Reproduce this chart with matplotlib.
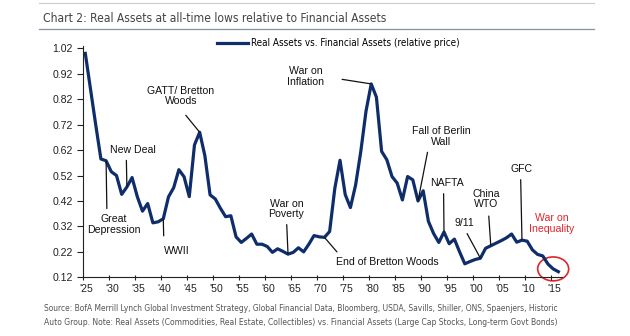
import numpy as np
import matplotlib
matplotlib.use("Agg")
import matplotlib.pyplot as plt
import matplotlib.transforms as mtransforms
from matplotlib import font_manager as fm
from matplotlib.lines import Line2D
from matplotlib.patches import Ellipse

# Real assets vs financial assets, relative price, annual
years = np.arange(1925, 2017)
rel_price = [
    1.00, 0.86, 0.72, 0.585, 0.578, 0.535, 0.52, 0.446, 0.475, 0.512,   # 1925-34
    0.437, 0.38, 0.41, 0.334, 0.338, 0.35, 0.436, 0.472, 0.543, 0.515,  # 1935-44
    0.437, 0.64, 0.69, 0.598, 0.444, 0.428, 0.391, 0.358, 0.362, 0.279, # 1945-54
    0.257, 0.273, 0.29, 0.25, 0.25, 0.241, 0.218, 0.232, 0.222, 0.211,  # 1955-64
    0.218, 0.236, 0.22, 0.25, 0.284, 0.279, 0.277, 0.30, 0.47, 0.58,    # 1965-74
    0.445, 0.394, 0.483, 0.615, 0.773, 0.88, 0.828, 0.615, 0.582, 0.516, # 1975-84
    0.49, 0.424, 0.516, 0.503, 0.42, 0.46, 0.34, 0.292, 0.257, 0.298,   # 1985-94
    0.252, 0.27, 0.22, 0.173, 0.182, 0.19, 0.195, 0.234, 0.244, 0.254,  # 1995-2004
    0.264, 0.275, 0.29, 0.258, 0.266, 0.262, 0.228, 0.21, 0.204, 0.172, # 2005-14
    0.153, 0.142,                                                       # 2015-16
]

y_ticks = [0.12, 0.22, 0.32, 0.42, 0.52, 0.62, 0.72, 0.82, 0.92, 1.02]
x_ticks = list(range(1925, 2016, 5))
x_labels = ["'%02d" % (y % 100) for y in x_ticks]

event_labels = ["Great\nDepression", "New Deal", "WWII", "GATT/ Bretton\nWoods",
                "War on\nPoverty", "End of Bretton Woods", "War on\nInflation",
                "Fall of Berlin\nWall", "NAFTA", "9/11", "China\nWTO", "GFC"]
event_years = [1929, 1933, 1940, 1947, 1964, 1971, 1980, 1989, 1994, 2001, 2003, 2009]

# text position (x, y), leader start on text bbox, gap at text end
event_layout = [
    ((1931.0, 0.328), (0.37, 1.0), 2),
    ((1934.7, 0.621), (0.35, 0.0), 2),
    ((1943.1, 0.225), (0.0, 1.0), 5),
    ((1943.9, 0.833), (0.46, 0.0), 6),
    ((1964.2, 0.389), (0.5, 0.0), 2),
    ((1983.6, 0.181), (0.05, 1.0), 2),
    ((1967.9, 0.909), (1.0, 0.5), 11),
    ((1993.9, 0.673), (0.29, 0.0), 2),
    ((1995.0, 0.490), (0.41, 0.0), 2),
    ((1998.4, 0.332), (0.5, 0.0), 2),
    ((2002.6, 0.428), (0.58, 0.0), 3),
    ((2009.4, 0.545), (0.46, 0.0), 2),
]

title = "Chart 2: Real Assets at all-time lows relative to Financial Assets"
series_name = "Real Assets vs. Financial Assets (relative price)"
source_lines = [
    "Source: BofA Merrill Lynch Global Investment Strategy, Global Financial Data, "
    "Bloomberg, USDA, Savills, Shiller, ONS, Spaenjers, Historic",
    "Auto Group. Note: Real Assets (Commodities, Real Estate, Collectibles) vs. "
    "Financial Assets (Large Cap Stocks, Long-term Govt Bonds)",
]

navy = "#0f2d6b"
red = "#e0262b"
plt.rcParams["font.family"] = ["Liberation Sans", "DejaVu Sans"]


def narrow_font():
    # a condensed sans face if one is installed, else plain Liberation Sans
    prefs = ["Liberation Sans Narrow", "DejaVu Sans", "Noto Sans", "Roboto",
             "Open Sans", "Noto Sans Condensed", "Roboto Condensed"]
    found = [f for f in fm.fontManager.ttflist
             if (f.stretch in ("condensed", "semi-condensed") or "Narrow" in f.name
                 or "Condensed" in f.name)
             and f.style == "normal" and f.weight in (400, "normal", "regular", "book")
             and f.name in prefs]
    if found:
        found.sort(key=lambda f: prefs.index(f.name))
        return fm.FontProperties(fname=found[0].fname)
    return fm.FontProperties(family=["Liberation Sans", "DejaVu Sans"])


narrow = narrow_font()

fig = plt.figure(figsize=(6.3, 3.36), dpi=100)
renderer = fig.canvas.get_renderer()


def fitted_size(s, width_px, base=10.0):
    # font size at which s spans width_px pixels in the narrow face
    t = fig.text(0, 0, s, fontproperties=narrow, fontsize=base)
    w = t.get_window_extent(renderer).width
    t.remove()
    return base * width_px / w


def narrow_at(size):
    fp = narrow.copy()
    fp.set_size(size)
    return fp


ax = fig.add_axes([82.7 / 630, 1 - 277.3 / 336, (562 - 82.7) / 630, (277.3 - 46) / 336])

ax.plot(years + 0.5, rel_price, color=navy, lw=2.3, solid_joinstyle="round",
        label=series_name)

ax.set_xlim(1925, 2017.2)
ax.set_ylim(0.12, 1.029)
ax.set_yticks(y_ticks)
ax.set_yticklabels(["%.2f" % v for v in y_ticks])
ax.set_xticks(x_ticks)
ax.set_xticklabels(x_labels)
ax.tick_params(axis="y", direction="out", length=4.3, width=0.8, pad=3,
               labelsize=7.6, colors="#222222")
ax.tick_params(axis="x", direction="inout", length=3.6, width=0.8, pad=3,
               labelsize=7.6, colors="#222222")
shift = mtransforms.ScaledTranslation(4 / 100, 0, fig.dpi_scale_trans)
for lab in ax.get_xticklabels():
    lab.set_transform(lab.get_transform() + shift)
for side in ["top", "right"]:
    ax.spines[side].set_visible(False)
for side in ["left", "bottom"]:
    ax.spines[side].set_linewidth(0.8)
    ax.spines[side].set_color("#222222")

price_by_year = dict(zip(years, rel_price))
for label, yr, (xytext, relpos, gap) in zip(event_labels, event_years, event_layout):
    ax.annotate(label, xy=(yr + 0.5, price_by_year[yr]), xytext=xytext,
                ha="center", va="center", fontsize=7.6, linespacing=1.05,
                color="#111111",
                arrowprops=dict(arrowstyle="-", color="#111111", lw=0.9,
                                relpos=relpos, shrinkA=gap, shrinkB=0.5))

ax.text(2015.2, 0.332, "War on\nInequality", ha="center", va="center",
        fontsize=7.6, linespacing=1.05, color=red)
last = years[-2]
ax.add_patch(Ellipse((last + 0.5, price_by_year[last]), 5.96, 0.094,
                     fill=False, edgecolor=red, lw=1.2, clip_on=False))

legend_size = fitted_size(series_name, 209)
em_px = legend_size * 100 / 72
ax.legend(loc="center left", bbox_to_anchor=(217 / 630, 1 - 43 / 336),
          bbox_transform=fig.transFigure, frameon=False, borderpad=0,
          borderaxespad=0, handlelength=31 / em_px, handletextpad=3 / em_px,
          prop=narrow_at(legend_size))

# header rules and title
fig.add_artist(Line2D([39 / 630, 594 / 630], [1 - 3 / 336] * 2, color="#cccccc", lw=0.8))
fig.add_artist(Line2D([39 / 630, 594 / 630], [1 - 28.5 / 336] * 2, color="#8592a6", lw=0.9))
fig.text(43 / 630, 1 - 18 / 336, title,
         fontproperties=narrow_at(fitted_size(title, 343)),
         color="#444444", va="center", ha="left")

for line, yy, width in zip(source_lines, [308.3, 322.3], [516, 513]):
    fig.text(44 / 630, 1 - yy / 336, line,
             fontproperties=narrow_at(fitted_size(line, width)),
             color="#555555", va="center", ha="left")

fig.savefig("out.png", dpi=100)
